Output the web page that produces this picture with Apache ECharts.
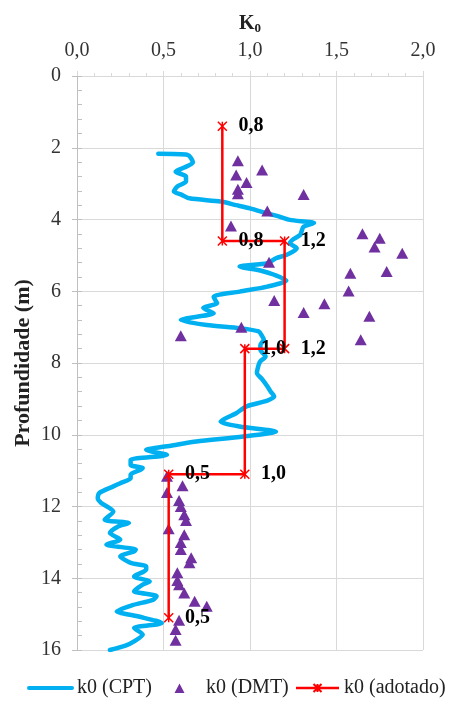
<!DOCTYPE html>
<html>
<head>
<meta charset="utf-8">
<script src="https://cdn.jsdelivr.net/npm/echarts@6/dist/echarts.min.js"></script>
<style>
  html, body { margin: 0; padding: 0; background: #fff; }
  #chart { width: 451px; height: 705px; }
</style>
</head>
<body>
<div id="chart"></div>
<script>
// K0 profile with depth: CPT-derived curve, DMT points and adopted design values
const xTicks = [0, 0.5, 1.0, 1.5, 2.0];
const yTicks = [0, 2, 4, 6, 8, 10, 12, 14, 16];

const cptDepth = [2.17, 2.20, 2.41, 2.55, 2.67, 2.80, 2.94, 3.08, 3.22, 3.30, 3.41, 3.50, 3.60, 3.69, 3.83, 3.92, 4.01, 4.10, 4.20, 4.30, 4.43, 4.55, 4.66, 4.80, 4.89, 4.99, 5.08, 5.22, 5.31, 5.42, 5.54, 5.70, 5.87, 6.01, 6.15, 6.25, 6.33, 6.47, 6.61, 6.80, 6.94, 7.03, 7.12, 7.25, 7.35, 7.50, 7.63, 7.82, 7.95, 8.05, 8.28, 8.45, 8.65, 8.80, 8.93, 9.05, 9.21, 9.40, 9.63, 9.77, 9.91, 10.05, 10.19, 10.30, 10.37, 10.42, 10.56, 10.70, 10.84, 10.93, 10.97, 11.11, 11.21, 11.35, 11.44, 11.62, 11.78, 11.90, 12.14, 12.37, 12.46, 12.55, 12.74, 12.92, 13.06, 13.20, 13.25, 13.39, 13.57, 13.67, 13.76, 13.95, 14.09, 14.18, 14.36, 14.50, 14.60, 14.75, 14.92, 15.06, 15.25, 15.39, 15.57, 15.76, 15.88, 16.00];
const cptK = [0.47, 0.64, 0.67, 0.62, 0.57, 0.63, 0.63, 0.58, 0.56, 0.60, 0.65, 0.83, 0.92, 1.00, 1.10, 1.17, 1.23, 1.37, 1.31, 1.30, 1.29, 1.25, 1.23, 1.27, 1.25, 1.21, 1.15, 1.10, 0.94, 1.06, 1.14, 1.21, 1.10, 0.94, 0.79, 0.80, 0.81, 0.73, 0.79, 0.60, 0.75, 0.94, 1.05, 1.07, 1.08, 1.06, 1.06, 1.09, 1.06, 1.05, 1.04, 1.07, 1.10, 1.12, 1.14, 1.10, 0.98, 0.92, 0.83, 0.94, 1.15, 0.96, 0.69, 0.55, 0.45, 0.40, 0.52, 0.31, 0.31, 0.38, 0.37, 0.31, 0.31, 0.25, 0.21, 0.13, 0.12, 0.14, 0.21, 0.16, 0.30, 0.24, 0.19, 0.25, 0.17, 0.34, 0.33, 0.25, 0.31, 0.40, 0.40, 0.33, 0.42, 0.38, 0.33, 0.46, 0.44, 0.32, 0.23, 0.35, 0.49, 0.33, 0.38, 0.33, 0.28, 0.19];

const dmtDepth = [2.36, 2.62, 2.76, 2.97, 3.16, 3.28, 3.30, 3.76, 4.18, 4.40, 4.52, 4.77, 4.94, 5.19, 5.45, 5.50, 5.99, 6.26, 6.35, 6.59, 6.70, 7.00, 7.24, 7.35, 11.16, 11.42, 11.61, 11.83, 12.00, 12.23, 12.39, 12.62, 12.79, 13.00, 13.20, 13.43, 13.57, 13.85, 14.06, 14.18, 14.41, 14.64, 14.78, 15.17, 15.43, 15.73];
const dmtK = [0.93, 1.07, 0.92, 0.98, 0.93, 0.93, 1.31, 1.10, 0.89, 1.65, 1.75, 1.72, 1.88, 1.11, 1.79, 1.58, 1.57, 1.14, 1.43, 1.31, 1.69, 0.95, 0.60, 1.64, 0.52, 0.61, 0.52, 0.59, 0.60, 0.62, 0.63, 0.53, 0.62, 0.60, 0.60, 0.66, 0.65, 0.58, 0.58, 0.59, 0.62, 0.68, 0.75, 0.59, 0.57, 0.57];

const adoptedDepth = [1.4, 4.6, 4.6, 7.6, 7.6, 11.1, 11.1, 15.1];
const adoptedK = [0.84, 0.84, 1.2, 1.2, 0.97, 0.97, 0.53, 0.53];

const serif = '"Liberation Serif", "DejaVu Serif", serif';
const gridColor = '#d9d9d9';
const blue = '#00b0f0';
const purple = '#7030a0';
const red = '#ff0000';
const comma = v => v.toFixed(1).replace('.', ',');
const pairs = (xs, ys) => xs.map((x, i) => [x, ys[i]]);

// asterisk-like marker: diagonal cross plus a short vertical stroke
const starPath = 'path://M0,0L10,10M10,0L0,10M5,0L5,10';
// small triangle centred in a 43x10 legend box (corner dots fix the box size)
const legendTriangle = 'path://M0,0L0.01,0L0.01,0.01ZM43,10L42.99,10L42.99,9.99ZM16.5,10L21.5,0.5L26.5,10Z';

const chart = echarts.init(document.getElementById('chart'), null, { renderer: 'canvas' });
chart.setOption({
  animation: false,
  backgroundColor: '#ffffff',
  grid: { left: 77, right: 28, top: 76, bottom: 55 },
  xAxis: {
    type: 'value',
    position: 'top',
    min: xTicks[0],
    max: xTicks[xTicks.length - 1],
    interval: 0.5,
    name: '{k|K}{s|0}',
    nameLocation: 'middle',
    nameGap: 41,
    nameTextStyle: {
      rich: {
        k: { fontFamily: serif, fontSize: 20, fontWeight: 'bold', color: '#222' },
        s: { fontFamily: serif, fontSize: 13, fontWeight: 'bold', color: '#222', padding: [10, 0, 0, 0] }
      }
    },
    axisLine: { show: true, lineStyle: { color: gridColor } },
    axisTick: { show: true, length: 5, lineStyle: { color: gridColor } },
    minorTick: { show: true, splitNumber: 5, length: 3, lineStyle: { color: gridColor } },
    splitLine: { show: true, lineStyle: { color: gridColor, width: 1 } },
    axisLabel: { fontFamily: serif, fontSize: 20, color: '#333', margin: 15, formatter: v => comma(v) }
  },
  yAxis: [{
    type: 'value',
    inverse: true,
    min: yTicks[0],
    max: yTicks[yTicks.length - 1],
    interval: 2,
    name: 'Profundidade (m)',
    nameLocation: 'middle',
    nameGap: 43,
    nameMoveOverlap: false,
    nameTextStyle: { fontFamily: serif, fontSize: 22, fontWeight: 'bold', color: '#222' },
    axisLine: { show: true, lineStyle: { color: '#bfbfbf' } },
    axisTick: { show: true, length: 5, lineStyle: { color: '#bfbfbf' } },
    splitLine: { show: true, lineStyle: { color: gridColor, width: 1 } },
    axisLabel: { fontFamily: serif, fontSize: 20, color: '#333', margin: 16 }
  }, {
    // second scale on the same edge, only for the short inward minor ticks
    type: 'value',
    inverse: true,
    position: 'left',
    min: 0,
    max: 16,
    interval: 0.4,
    axisLine: { show: false },
    axisTick: { show: true, inside: true, length: 5, lineStyle: { color: '#bfbfbf' } },
    splitLine: { show: false },
    axisLabel: { show: false }
  }],
  legend: {
    bottom: 2,
    left: 27,
    width: 430,
    padding: [5, 0],
    itemWidth: 43,
    itemHeight: 10,
    itemGap: 6,
    textStyle: { fontFamily: serif, fontSize: 20, color: '#222' },
    data: [
      { name: 'k0 (CPT)', itemStyle: { opacity: 0 }, lineStyle: { width: 4, color: blue } },
      { name: 'k0 (DMT)', icon: legendTriangle, itemStyle: { color: purple } },
      { name: 'k0 (adotado)', lineStyle: { width: 2.5, color: red } }
    ]
  },
  series: [{
    name: 'k0 (CPT)',
    type: 'line',
    data: pairs(cptK, cptDepth),
    symbol: 'none',
    smooth: 0.25,
    lineStyle: { color: blue, width: 4.5, cap: 'round', join: 'round' },
    itemStyle: { color: blue },
    z: 2
  }, {
    name: 'k0 (DMT)',
    type: 'scatter',
    data: pairs(dmtK, dmtDepth),
    symbol: 'triangle',
    symbolSize: [12, 11],
    itemStyle: { color: purple, opacity: 1 },
    z: 3
  }, {
    name: 'k0 (adotado)',
    type: 'line',
    data: pairs(adoptedK, adoptedDepth),
    symbol: starPath,
    symbolSize: 9,
    showSymbol: true,
    lineStyle: { color: red, width: 2.5 },
    itemStyle: { color: red, borderColor: red, borderWidth: 1.5 },
    label: {
      show: true,
      position: 'right',
      distance: 11,
      fontFamily: serif,
      fontSize: 20,
      fontWeight: 'bold',
      color: '#000',
      formatter: p => comma(p.value[0])
    },
    z: 4
  }]
});
</script>
</body>
</html>
